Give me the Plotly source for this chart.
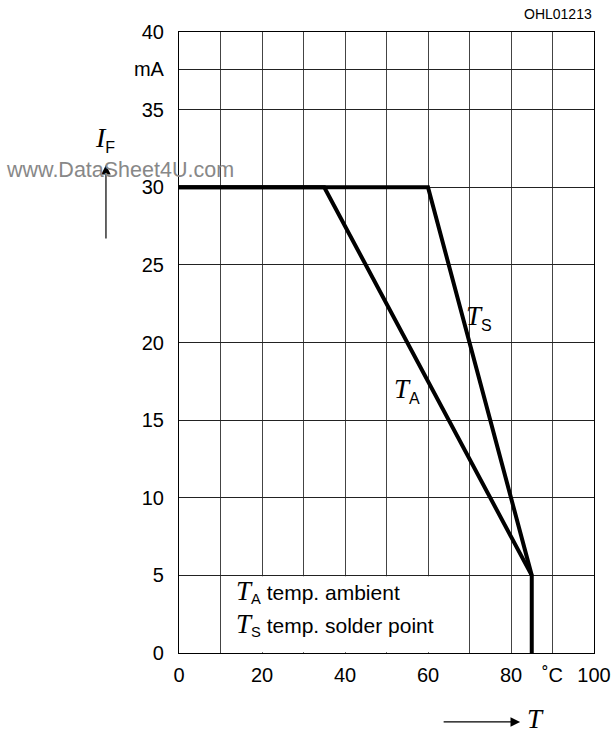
import plotly.graph_objects as go

# Data
ts_x = [0, 60, 85, 85]
ts_y = [30, 30, 5, 0]
ta_x = [0, 35, 85]
ta_y = [30, 30, 5]
x_tickvals = [0, 20, 40, 60, 80, 90, 100]
x_ticktext = ["0", "20", "40", "60", "80", "˚C", "100"]
y_tickvals = [0, 5, 10, 15, 20, 25, 30, 35, 37.6, 40]
y_ticktext = ["0", "5", "10", "15", "20", "25", "30", "35", "mA", "40"]

SANS = "Liberation Sans, Arial, sans-serif"
SERIF = "Liberation Serif, Times New Roman, serif"

fig = go.Figure()
fig.add_trace(go.Scatter(x=ts_x, y=ts_y, mode="lines",
                         line=dict(color="black", width=4), showlegend=False))
fig.add_trace(go.Scatter(x=ta_x, y=ta_y, mode="lines",
                         line=dict(color="black", width=4), showlegend=False))

def tlabel(sub, subsize=16):
    return (f"<i>T</i><sub><span style='font-family:{SANS}; font-size:{subsize}px'>{sub}</span></sub>")

def tlabel_inline(sub, size=27, subsize=16):
    return (f"<span style='font-family:{SERIF}; font-size:{size}px'><i>T</i></span>"
            f"<sub style='font-size:{subsize}px'>{sub}</sub>")

# white box covering grid in legend area
fig.add_shape(type="rect", x0=10.3, x1=69.7, y0=0.05, y1=4.95, layer="between",
              fillcolor="white", line=dict(width=0))

P = dict(xref="paper", yref="paper")
anns = [
    dict(x=72.3, y=21.6, text=tlabel("S"), showarrow=False,
         xanchor="center", yanchor="middle", font=dict(size=27, family=SERIF)),
    dict(x=55.0, y=16.9, text=tlabel("A"), showarrow=False,
         xanchor="center", yanchor="middle", font=dict(size=27, family=SERIF)),
    dict(x=13.3, y=3.95, text=tlabel_inline("A") + " temp. ambient", showarrow=False,
         xanchor="left", yanchor="middle", font=dict(size=21)),
    dict(x=13.3, y=1.85, text=tlabel_inline("S") + " temp. solder point", showarrow=False,
         xanchor="left", yanchor="middle", font=dict(size=21)),
    dict(**P, x=1.0, y=1.0, yshift=18, text="OHL01213",
         showarrow=False, xanchor="right", yanchor="middle", font=dict(size=14)),
    dict(**P, x=-0.178, y=0.827, xanchor="center", yanchor="middle",
         text=f"<i>I</i><sub><span style='font-family:{SANS}; font-size:16px'>F</span></sub>",
         showarrow=False, font=dict(size=28, family=SERIF)),
    dict(**P, x=-0.176, y=0.786, ax=0, ay=75, text="",
         showarrow=True, arrowhead=2, arrowsize=1.6, arrowwidth=1.2, arrowcolor="black"),
    dict(**P, x=-0.4217, y=0.7778, xanchor="left", yanchor="middle",
         text="www.DataSheet4U.com", showarrow=False,
         font=dict(size=21.5, color="#888888", family="Liberation Sans, Arial")),
    dict(**P, x=0.822, y=-0.111, ax=-78, ay=0, text="",
         showarrow=True, arrowhead=2, arrowsize=1.6, arrowwidth=1.2, arrowcolor="black"),
    dict(**P, x=0.858, y=-0.106, xanchor="center", yanchor="middle",
         text="<i>T</i>", showarrow=False, font=dict(size=27, family=SERIF)),
]

fig.update_layout(
    width=616, height=733, autosize=False,
    margin=dict(l=179, r=22, t=32, b=80),
    paper_bgcolor="white", plot_bgcolor="white",
    font=dict(family=SANS, size=20, color="black"),
    annotations=anns,
    xaxis=dict(range=[0, 100], tickvals=x_tickvals, ticktext=x_ticktext,
               showgrid=True, gridcolor="#444", gridwidth=1, automargin=False,
               showline=True, linecolor="black", linewidth=1.2, mirror=True,
               ticks="", zeroline=False, ticklabelstandoff=4,
               minor=dict(dtick=10, tick0=0, showgrid=True, gridcolor="#444", gridwidth=1)),
    yaxis=dict(range=[0, 40], tickvals=y_tickvals, ticktext=y_ticktext,
               showgrid=True, gridcolor="#222", gridwidth=1, automargin=False,
               showline=True, linecolor="black", linewidth=1.2, mirror=True,
               ticks="", zeroline=False, ticklabelstandoff=10),
)

fig.write_html("out.html",
               config={"responsive": False, "displayModeBar": False},
               post_script="document.body.style.margin='0';document.body.style.overflow='hidden';")
